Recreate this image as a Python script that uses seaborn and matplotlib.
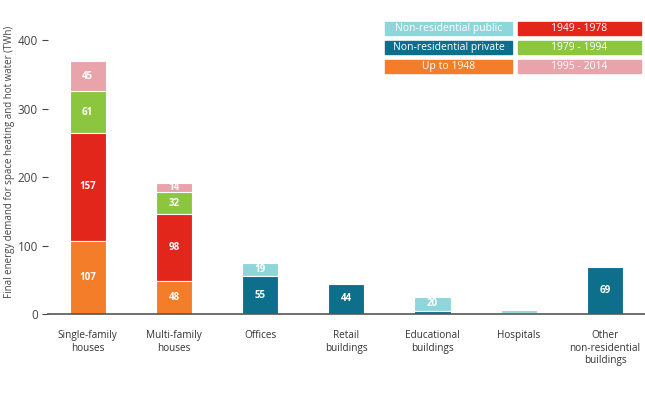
import pandas as pd
import seaborn as sns
import matplotlib.pyplot as plt
from matplotlib.patches import Rectangle

categories = ["Single-family\nhouses", "Multi-family\nhouses", "Offices", "Retail\nbuildings",
              "Educational\nbuildings", "Hospitals", "Other\nnon-residential\nbuildings"]

# residential segments (bottom to top)
up_to_1948 = [107, 48, 0, 0, 0, 0, 0]
y1949_1978 = [157, 98, 0, 0, 0, 0, 0]
y1979_1994 = [61, 32, 0, 0, 0, 0, 0]
y1995_2014 = [45, 14, 0, 0, 0, 0, 0]
# non-residential segments
nonres_private = [0, 0, 55, 44, 5, 2, 69]
nonres_public = [0, 0, 19, 0, 20, 4, 0]

layers = [
    ("Up to 1948", up_to_1948, "#F47D2A"),
    ("Non-residential private", nonres_private, "#0D6F8C"),
    ("1949 - 1978", y1949_1978, "#E3261C"),
    ("Non-residential public", nonres_public, "#8FD6DA"),
    ("1979 - 1994", y1979_1994, "#8CC63F"),
    ("1995 - 2014", y1995_2014, "#E9A3AA"),
]

sns.set_style("white")
plt.rcParams['font.family'] = ['Open Sans', 'DejaVu Sans']

fig = plt.figure(figsize=(6.45, 4.01), dpi=100)
ax = fig.add_axes([0.074, 0.217, 0.926, 0.683])

df = pd.DataFrame({"cat": categories})
cum = [0] * len(categories)
cums = []
for name, vals, col in layers:
    cum = [c + v for c, v in zip(cum, vals)]
    cums.append((name, list(cum), vals, col))

# draw cumulative totals from top layer down so lower layers cover upper ones
for name, tot, vals, col in reversed(cums):
    df["v"] = tot
    sns.barplot(data=df, x="cat", y="v", color=col, width=0.42, saturation=1,
                edgecolor="white", linewidth=0.8, ax=ax)

# segment value labels
for name, tot, vals, col in cums:
    for i, (t, v) in enumerate(zip(tot, vals)):
        if v >= 10:
            ax.text(i, t - v / 2, str(v), ha="center", va="center", color="white",
                    fontsize=7, fontweight="bold")

ax.set_ylim(0, 400)
ax.set_xlim(-0.464, 6.464)
ax.set_yticks([0, 100, 200, 300, 400])
ax.set_xlabel("")
ax.set_ylabel("")
fig.text(10 / 645, 1 - 162 / 401, "Final energy demand for space heating and hot water (TWh)",
         rotation=90, ha="center", va="center", fontsize=7, color="#444444")
for s in ["top", "right", "left"]:
    ax.spines[s].set_visible(False)
ax.spines["bottom"].set_color("#555555")
ax.spines["bottom"].set_linewidth(1.2)
ax.tick_params(axis="y", left=True, length=4, width=0.8, color="#444444",
               labelsize=8.5, labelcolor="#444444", pad=3)
ax.tick_params(axis="x", bottom=False, labelsize=7.2, labelcolor="#333333", pad=8)

# legend boxes
legend_items = [
    ("Non-residential public", "#8FD6DA", 0), ("1949 - 1978", "#E3261C", 1),
    ("Non-residential private", "#0D6F8C", 0), ("1979 - 1994", "#8CC63F", 1),
    ("Up to 1948", "#F47D2A", 0), ("1995 - 2014", "#E9A3AA", 1),
]
col_x = [385 / 645, 518 / 645]
col_w = [127 / 645, 123 / 645]
row_y = [366 / 401, 347 / 401, 328 / 401]
bh = 13 / 401
for k, (lab, col, c) in enumerate(legend_items):
    r = k // 2
    fig.patches.append(Rectangle((col_x[c], row_y[r]), col_w[c], bh, color=col,
                                 transform=fig.transFigure, figure=fig))
    fig.text(col_x[c] + col_w[c] / 2, row_y[r] + bh / 2, lab, ha="center", va="center",
             color="white", fontsize=7.5)

fig.savefig("out.png", dpi=100)
